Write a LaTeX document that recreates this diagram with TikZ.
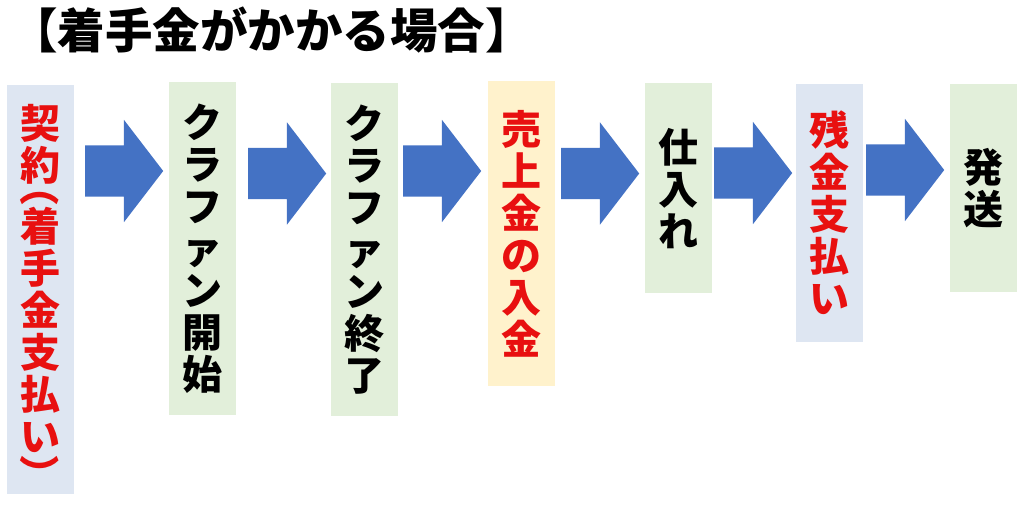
\documentclass[tikz,border=0pt]{standalone}
\usepackage{fontspec}
\usepackage{graphicx}
\newfontfamily\jp{Noto Sans CJK JP}
\usetikzlibrary{shapes.arrows}
\definecolor{paleblue}{HTML}{DEE6F2}
\definecolor{palegreen}{HTML}{E2EFDA}
\definecolor{paleyellow}{HTML}{FFF2CC}
\definecolor{flowblue}{HTML}{4472C4}
\definecolor{payred}{HTML}{E81010}
\newcommand\cellfont{\jp\bfseries\fontsize{40}{42}\selectfont}
% parentheses turned for vertical text
\newcommand\vopen{\raisebox{56pt}[0pt][0pt]{\rotatebox{-90}{（}}}
\newcommand\vclose{\raisebox{0pt}[0pt][21pt]{\rotatebox{-90}{）}}}

\begin{document}
\begin{tikzpicture}[x=1pt, y=-1pt,
  stepbox/.style={anchor=north, minimum width=67pt, inner sep=0pt, align=center, font=\cellfont},
  flowarrow/.style={single arrow, anchor=tail, fill=flowblue, minimum height=78pt, inner xsep=0pt, inner ysep=25.5pt,
    single arrow head extend=25.5pt, single arrow tip angle=105}]
\useasboundingbox (0,0) rectangle (1024,504);
\node [anchor=base west, inner sep=0pt, font=\jp\bfseries\fontsize{47.5}{50}\selectfont] (title) at (10,48) {【着手金がかかる場合】};

% steps
\node [stepbox, fill=paleblue, text=payred, minimum height=409pt] (contract) at (40,85) {契\\約\\\vopen\\[-23pt]着\\手\\金\\支\\払\\い\\[-39pt]\vclose};
\node [stepbox, fill=palegreen, minimum height=333pt] (start) at (202.5,82) {ク\\ラ\\フ\\ァ\\ン\\開\\始};
\node [stepbox, fill=palegreen, minimum height=333pt] (finish) at (364,83) {ク\\ラ\\フ\\ァ\\ン\\終\\了};
\node [stepbox, fill=paleyellow, text=payred, minimum height=305pt] (income) at (521,81) {売\\上\\金\\の\\入\\金};
\node [stepbox, fill=palegreen, minimum height=210pt] (stock) at (678.5,83) {仕\\入\\れ};
\node [stepbox, fill=paleblue, text=payred, minimum height=258pt] (balance) at (829.5,84) {残\\金\\支\\払\\い};
\node [stepbox, fill=palegreen, minimum height=208pt] (ship) at (983,84) {発\\送};

% arrows between the steps
\node [flowarrow] (a1) at (85,171) {};
\node [flowarrow] (a2) at (248,173.5) {};
\node [flowarrow] (a3) at (403,171) {};
\node [flowarrow] (a4) at (561,173.5) {};
\node [flowarrow] (a5) at (714,173) {};
\node [flowarrow] (a6) at (866,170) {};
\end{tikzpicture}
\end{document}
